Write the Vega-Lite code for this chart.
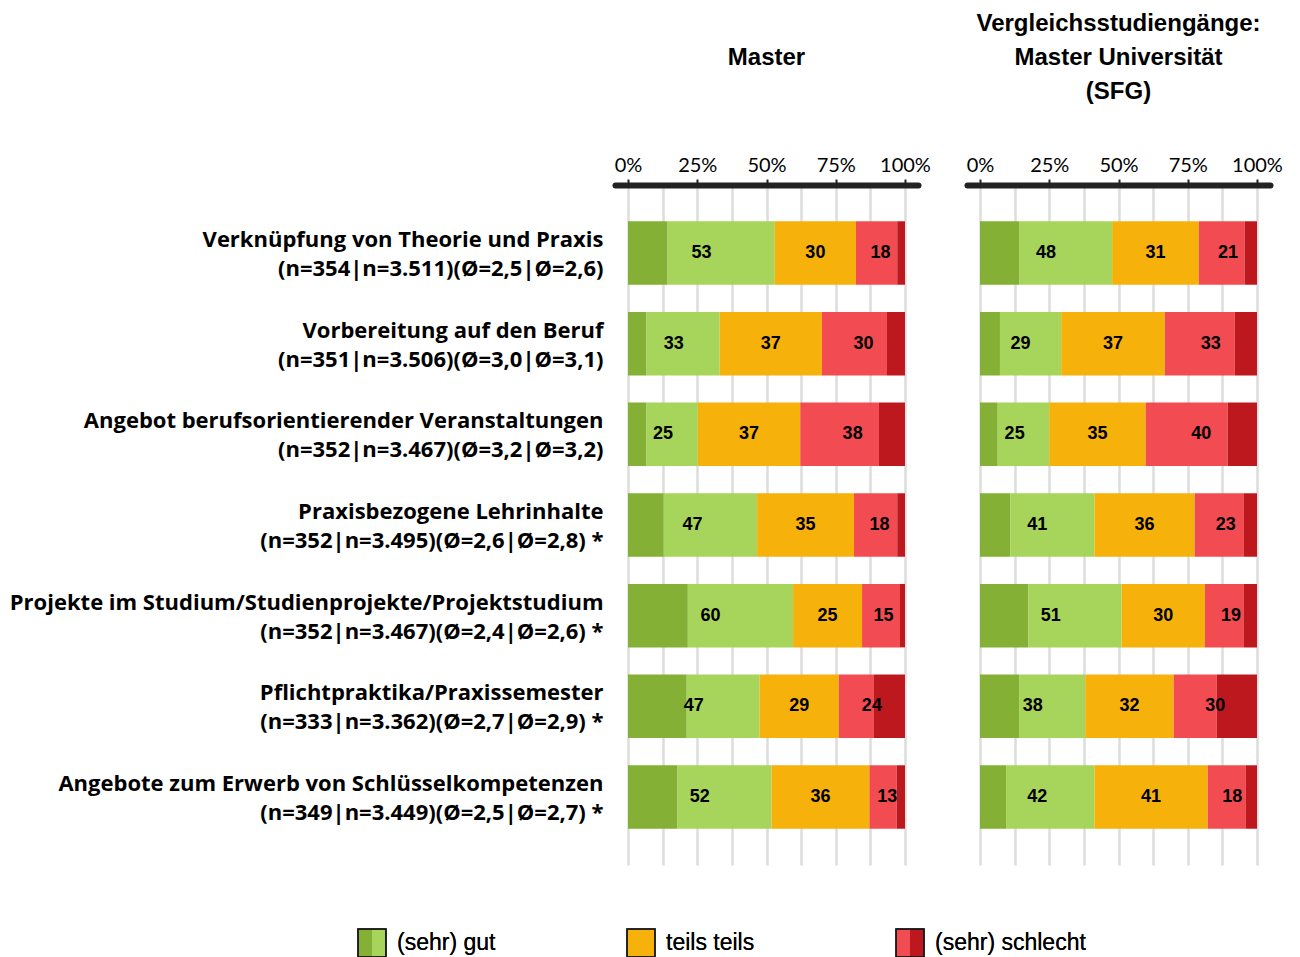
{
  "$schema": "https://vega.github.io/schema/vega-lite/v6.json",
  "background": "white",
  "padding": {"left": 5, "top": 12, "right": 5, "bottom": 0},
  "datasets": {
    "items": [
      {"i": 1, "item": "Verknüpfung von Theorie und Praxis\u00a0~(n=354|n=3.511)(Ø=2,5|Ø=2,6)"},
      {"i": 2, "item": "Vorbereitung auf den Beruf\u00a0~(n=351|n=3.506)(Ø=3,0|Ø=3,1)"},
      {"i": 3, "item": "Angebot berufsorientierender Veranstaltungen\u00a0~(n=352|n=3.467)(Ø=3,2|Ø=3,2)"},
      {"i": 4, "item": "Praxisbezogene Lehrinhalte\u00a0~(n=352|n=3.495)(Ø=2,6|Ø=2,8) *"},
      {"i": 5, "item": "Projekte im Studium/Studienprojekte/Projektstudium\u00a0~(n=352|n=3.467)(Ø=2,4|Ø=2,6) *"},
      {"i": 6, "item": "Pflichtpraktika/Praxissemester\u00a0~(n=333|n=3.362)(Ø=2,7|Ø=2,9) *"},
      {"i": 7, "item": "Angebote zum Erwerb von Schlüsselkompetenzen\u00a0~(n=349|n=3.449)(Ø=2,5|Ø=2,7) *"}
    ],
    "cats": [
      {"c": "sehr gut", "k": 1, "g": 1},
      {"c": "gut", "k": 2, "g": 1},
      {"c": "teils teils", "k": 3, "g": 2},
      {"c": "schlecht", "k": 4, "g": 3},
      {"c": "sehr schlecht", "k": 5, "g": 3}
    ],
    "seg": [
      {"p": "M", "i": 1, "c": "sehr gut", "v": 14.3, "l": 53},
      {"p": "M", "i": 1, "c": "gut", "v": 38.7, "l": 53},
      {"p": "M", "i": 1, "c": "teils teils", "v": 29.3, "l": 30},
      {"p": "M", "i": 1, "c": "schlecht", "v": 14.9, "l": 18},
      {"p": "M", "i": 1, "c": "sehr schlecht", "v": 2.8, "l": 18},
      {"p": "M", "i": 2, "c": "sehr gut", "v": 6.7, "l": 33},
      {"p": "M", "i": 2, "c": "gut", "v": 26.4, "l": 33},
      {"p": "M", "i": 2, "c": "teils teils", "v": 36.9, "l": 37},
      {"p": "M", "i": 2, "c": "schlecht", "v": 23.5, "l": 30},
      {"p": "M", "i": 2, "c": "sehr schlecht", "v": 6.5, "l": 30},
      {"p": "M", "i": 3, "c": "sehr gut", "v": 6.7, "l": 25},
      {"p": "M", "i": 3, "c": "gut", "v": 18.5, "l": 25},
      {"p": "M", "i": 3, "c": "teils teils", "v": 37.0, "l": 37},
      {"p": "M", "i": 3, "c": "schlecht", "v": 28.4, "l": 38},
      {"p": "M", "i": 3, "c": "sehr schlecht", "v": 9.4, "l": 38},
      {"p": "M", "i": 4, "c": "sehr gut", "v": 12.9, "l": 47},
      {"p": "M", "i": 4, "c": "gut", "v": 33.7, "l": 47},
      {"p": "M", "i": 4, "c": "teils teils", "v": 35.0, "l": 35},
      {"p": "M", "i": 4, "c": "schlecht", "v": 15.6, "l": 18},
      {"p": "M", "i": 4, "c": "sehr schlecht", "v": 2.8, "l": 18},
      {"p": "M", "i": 5, "c": "sehr gut", "v": 21.6, "l": 60},
      {"p": "M", "i": 5, "c": "gut", "v": 38.0, "l": 60},
      {"p": "M", "i": 5, "c": "teils teils", "v": 24.9, "l": 25},
      {"p": "M", "i": 5, "c": "schlecht", "v": 13.7, "l": 15},
      {"p": "M", "i": 5, "c": "sehr schlecht", "v": 1.8, "l": 15},
      {"p": "M", "i": 6, "c": "sehr gut", "v": 21.2, "l": 47},
      {"p": "M", "i": 6, "c": "gut", "v": 26.3, "l": 47},
      {"p": "M", "i": 6, "c": "teils teils", "v": 28.6, "l": 29},
      {"p": "M", "i": 6, "c": "schlecht", "v": 12.7, "l": 24},
      {"p": "M", "i": 6, "c": "sehr schlecht", "v": 11.2, "l": 24},
      {"p": "M", "i": 7, "c": "sehr gut", "v": 17.9, "l": 52},
      {"p": "M", "i": 7, "c": "gut", "v": 33.9, "l": 52},
      {"p": "M", "i": 7, "c": "teils teils", "v": 35.4, "l": 36},
      {"p": "M", "i": 7, "c": "schlecht", "v": 9.8, "l": 13},
      {"p": "M", "i": 7, "c": "sehr schlecht", "v": 3.0, "l": 13},
      {"p": "U", "i": 1, "c": "sehr gut", "v": 14.1, "l": 48},
      {"p": "U", "i": 1, "c": "gut", "v": 33.6, "l": 48},
      {"p": "U", "i": 1, "c": "teils teils", "v": 31.3, "l": 31},
      {"p": "U", "i": 1, "c": "schlecht", "v": 16.5, "l": 21},
      {"p": "U", "i": 1, "c": "sehr schlecht", "v": 4.5, "l": 21},
      {"p": "U", "i": 2, "c": "sehr gut", "v": 7.2, "l": 29},
      {"p": "U", "i": 2, "c": "gut", "v": 22.1, "l": 29},
      {"p": "U", "i": 2, "c": "teils teils", "v": 37.4, "l": 37},
      {"p": "U", "i": 2, "c": "schlecht", "v": 25.3, "l": 33},
      {"p": "U", "i": 2, "c": "sehr schlecht", "v": 8.0, "l": 33},
      {"p": "U", "i": 3, "c": "sehr gut", "v": 6.4, "l": 25},
      {"p": "U", "i": 3, "c": "gut", "v": 18.6, "l": 25},
      {"p": "U", "i": 3, "c": "teils teils", "v": 34.8, "l": 35},
      {"p": "U", "i": 3, "c": "schlecht", "v": 29.6, "l": 40},
      {"p": "U", "i": 3, "c": "sehr schlecht", "v": 10.6, "l": 40},
      {"p": "U", "i": 4, "c": "sehr gut", "v": 10.9, "l": 41},
      {"p": "U", "i": 4, "c": "gut", "v": 30.4, "l": 41},
      {"p": "U", "i": 4, "c": "teils teils", "v": 36.2, "l": 36},
      {"p": "U", "i": 4, "c": "schlecht", "v": 17.8, "l": 23},
      {"p": "U", "i": 4, "c": "sehr schlecht", "v": 4.7, "l": 23},
      {"p": "U", "i": 5, "c": "sehr gut", "v": 17.5, "l": 51},
      {"p": "U", "i": 5, "c": "gut", "v": 33.6, "l": 51},
      {"p": "U", "i": 5, "c": "teils teils", "v": 30.1, "l": 30},
      {"p": "U", "i": 5, "c": "schlecht", "v": 14.1, "l": 19},
      {"p": "U", "i": 5, "c": "sehr schlecht", "v": 4.7, "l": 19},
      {"p": "U", "i": 6, "c": "sehr gut", "v": 14.1, "l": 38},
      {"p": "U", "i": 6, "c": "gut", "v": 23.9, "l": 38},
      {"p": "U", "i": 6, "c": "teils teils", "v": 31.9, "l": 32},
      {"p": "U", "i": 6, "c": "schlecht", "v": 15.6, "l": 30},
      {"p": "U", "i": 6, "c": "sehr schlecht", "v": 14.5, "l": 30},
      {"p": "U", "i": 7, "c": "sehr gut", "v": 9.4, "l": 42},
      {"p": "U", "i": 7, "c": "gut", "v": 31.9, "l": 42},
      {"p": "U", "i": 7, "c": "teils teils", "v": 40.9, "l": 41},
      {"p": "U", "i": 7, "c": "schlecht", "v": 13.8, "l": 18},
      {"p": "U", "i": 7, "c": "sehr schlecht", "v": 4.0, "l": 18}
    ],
    "legend": [
      {"grp": "(sehr) gut", "c": "sehr gut", "h": 1},
      {"grp": "(sehr) gut", "c": "gut", "h": 2},
      {"grp": "teils teils", "c": "teils teils", "h": 1},
      {"grp": "teils teils", "c": "teils teils", "h": 2},
      {"grp": "(sehr) schlecht", "c": "schlecht", "h": 1},
      {"grp": "(sehr) schlecht", "c": "sehr schlecht", "h": 2}
    ]
  },
  "vconcat": [
    {
      "hconcat": [
        {
          "width": 303,
          "height": 680,
          "data": {"name": "seg"},
          "transform": [
            {"filter": "datum.p == 'M'"},
            {"lookup": "i", "from": {"data": {"name": "items"}, "key": "i", "fields": ["item"]}},
            {"lookup": "c", "from": {"data": {"name": "cats"}, "key": "c", "fields": ["k", "g"]}}
          ],
          "title": {"text": ["Master", " "]},
          "encoding": {
            "y": {
              "field": "item",
              "type": "nominal",
              "sort": null,
              "scale": {"paddingInner": 0.3, "paddingOuter": 0.4},
              "axis": {
                "title": null,
                "domain": false,
                "ticks": false,
                "labelExpr": "split(datum.label, '~')",
                "labelFont": "Open Sans",
                "labelFontWeight": "bold",
                "labelFontSize": 22,
                "labelLineHeight": 29,
                "labelPadding": 12,
                "labelOffset": -13,
                "labelLimit": 0,
                "labelColor": "black",
                "minExtent": 610,
                "maxExtent": 610
              }
            }
          },
          "layer": [
            {
              "mark": {"type": "bar"},
              "encoding": {
                "x": {"field": "v", "type": "quantitative", "stack": "zero",
                  "scale": {"domain": [-4.7, 104.7], "nice": false},
                  "axis": {"orient": "top", "values": [0, 25, 50, 75, 100], "labelExpr": "datum.value + '%'", "grid": false}},
                "color": {"field": "c", "type": "nominal", "legend": null,
                  "scale": {"domain": ["sehr gut", "gut", "teils teils", "schlecht", "sehr schlecht"],
                            "range": ["#83B035", "#A7D55B", "#F6B20B", "#F24C52", "#BE181F"]}},
                "order": {"field": "k"}
              }
            },
            {
              "transform": [
                {"aggregate": [{"op": "sum", "field": "v", "as": "v"}, {"op": "max", "field": "l", "as": "l"}], "groupby": ["item", "g"]}
              ],
              "mark": {"type": "text", "font": "Liberation Sans", "fontWeight": "bold", "fontSize": 18, "color": "black"},
              "encoding": {
                "x": {"field": "v", "type": "quantitative", "stack": "zero", "bandPosition": 0.5,
                  "axis": {"orient": "bottom", "values": [0, 12.5, 25, 37.5, 50, 62.5, 75, 87.5, 100], "grid": true, "labels": false, "ticks": false, "domain": false}},
                "order": {"field": "g"},
                "text": {"field": "l"}
              }
            }
          ]
        },
        {
          "width": 303,
          "height": 680,
          "data": {"name": "seg"},
          "transform": [
            {"filter": "datum.p == 'U'"},
            {"lookup": "i", "from": {"data": {"name": "items"}, "key": "i", "fields": ["item"]}},
            {"lookup": "c", "from": {"data": {"name": "cats"}, "key": "c", "fields": ["k", "g"]}}
          ],
          "title": {"text": ["Vergleichsstudiengänge:", "Master Universität", "(SFG)"]},
          "encoding": {
            "y": {
              "field": "item",
              "type": "nominal",
              "sort": null,
              "scale": {"paddingInner": 0.3, "paddingOuter": 0.4},
              "axis": null
            }
          },
          "layer": [
            {
              "mark": {"type": "bar"},
              "encoding": {
                "x": {"field": "v", "type": "quantitative", "stack": "zero",
                  "scale": {"domain": [-4.7, 104.7], "nice": false},
                  "axis": {"orient": "top", "values": [0, 25, 50, 75, 100], "labelExpr": "datum.value + '%'", "grid": false}},
                "color": {"field": "c", "type": "nominal", "legend": null,
                  "scale": {"domain": ["sehr gut", "gut", "teils teils", "schlecht", "sehr schlecht"],
                            "range": ["#83B035", "#A7D55B", "#F6B20B", "#F24C52", "#BE181F"]}},
                "order": {"field": "k"}
              }
            },
            {
              "transform": [
                {"aggregate": [{"op": "sum", "field": "v", "as": "v"}, {"op": "max", "field": "l", "as": "l"}], "groupby": ["item", "g"]}
              ],
              "mark": {"type": "text", "font": "Liberation Sans", "fontWeight": "bold", "fontSize": 18, "color": "black"},
              "encoding": {
                "x": {"field": "v", "type": "quantitative", "stack": "zero", "bandPosition": 0.5,
                  "axis": {"orient": "bottom", "values": [0, 12.5, 25, 37.5, 50, 62.5, 75, 87.5, 100], "grid": true, "labels": false, "ticks": false, "domain": false}},
                "order": {"field": "g"},
                "text": {"field": "l"}
              }
            }
          ]
        }
      ],
      "spacing": 35
    },
    {
      "width": 300,
      "height": 28,
      "data": {"name": "legend"},
      "encoding": {
        "x": {
          "field": "grp",
          "type": "nominal",
          "sort": null,
          "scale": {"type": "band", "range": [-257, 309], "paddingInner": 0.896, "paddingOuter": 0},
          "axis": null
        }
      },
      "layer": [
        {
          "mark": {"type": "bar"},
          "encoding": {
            "xOffset": {"field": "h", "type": "nominal"},
            "color": {"field": "c", "type": "nominal", "legend": null,
              "scale": {"domain": ["sehr gut", "gut", "teils teils", "schlecht", "sehr schlecht"],
                        "range": ["#83B035", "#A7D55B", "#F6B20B", "#F24C52", "#BE181F"]}}
          }
        },
        {
          "mark": {"type": "bar", "fill": null, "fillOpacity": 0, "stroke": "#1a1a1a", "strokeWidth": 1.5},
          "encoding": {}
        },
        {
          "mark": {"type": "text", "align": "left", "baseline": "middle", "dx": 11, "font": "Liberation Sans", "fontSize": 23, "color": "black"},
          "encoding": {
            "x": {"field": "grp", "type": "nominal", "sort": null, "bandPosition": 1},
            "text": {"field": "grp"}
          }
        }
      ]
    }
  ],
  "spacing": 63,
  "config": {
    "view": {"stroke": null},
    "title": {
      "font": "Liberation Sans",
      "fontWeight": "bold",
      "fontSize": 24,
      "lineHeight": 34,
      "color": "black",
      "anchor": "middle",
      "frame": "group",
      "offset": 51
    },
    "axisX": {
      "title": null,
      "labelOverlap": false,
      "labelFont": "Lato",
      "labelFontSize": 20,
      "labelColor": "black",
      "labelPadding": 4,
      "domainColor": "#222222",
      "domainWidth": 6,
      "domainCap": "round",
      "tickColor": "#222222",
      "tickWidth": 2,
      "tickSize": 6,
      "gridColor": "#dcdcdc",
      "gridWidth": 2.5
    }
  }
}
